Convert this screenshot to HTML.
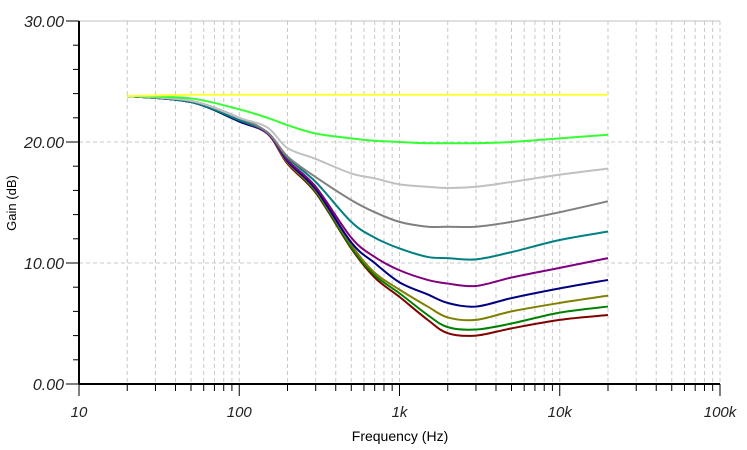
<!DOCTYPE html>
<html><head><meta charset="utf-8"><style>
body{margin:0;background:#fff}
svg{display:block;font-family:"Liberation Sans",sans-serif}
</style></head><body>
<svg id="chart" width="747" height="450" viewBox="0 0 747 450" xmlns="http://www.w3.org/2000/svg">
<g id="grid"></g><g id="axes"></g><g id="series"></g>
<text x="400" y="441" font-size="14" text-anchor="middle">Frequency (Hz)</text>
<text x="16" y="203" font-size="13" text-anchor="middle" transform="rotate(-90 16 203)">Gain (dB)</text>
</svg>
<script>
const freqs=[20,50,100,150,200,300,500,700,1000,1500,2000,3000,5000,10000,20000];
const yTicks=[0,10,20,30];
const yTickLabels=["0.00","10.00","20.00","30.00"];
const xTicks=[10,100,1000,10000,100000];
const xTickLabels=["10","100","1k","10k","100k"];
const colors=["#ffff33","#33ff33","#c0c0c0","#808080","#008080","#800080","#000080","#808000","#008000","#800000"];
const sYellow=[23.8,23.9,23.9,23.9,23.9,23.9,23.9,23.9,23.9,23.9,23.9,23.9,23.9,23.9,23.9];
const sLime=[23.8,23.6,22.7,22.0,21.4,20.7,20.3,20.1,20.0,19.9,19.9,19.9,20.0,20.3,20.6];
const sSilver=[23.8,23.4,22.0,21.2,19.5,18.6,17.4,17.0,16.5,16.3,16.2,16.3,16.7,17.3,17.8];
const sGray=[23.8,23.4,22.0,20.8,18.8,17.1,15.2,14.2,13.4,13.0,13.0,13.0,13.4,14.2,15.1];
const sTeal=[23.8,23.3,21.8,20.8,18.7,16.7,13.4,12.1,11.2,10.5,10.4,10.3,10.9,11.9,12.6];
const sPurple=[23.8,23.3,21.8,20.7,18.5,16.3,12.1,10.5,9.4,8.6,8.3,8.1,8.8,9.6,10.4];
const sNavy=[23.8,23.3,21.7,20.7,18.4,16.1,11.7,10.0,8.4,7.4,6.7,6.4,7.1,7.9,8.6];
const sOlive=[23.8,23.3,21.7,20.7,18.3,16.0,11.5,9.2,7.8,6.4,5.5,5.3,6.0,6.7,7.3];
const sGreen=[23.8,23.3,21.7,20.7,18.3,15.9,11.3,9.0,7.5,5.7,4.7,4.5,5.0,5.9,6.4];
const sMaroon=[23.8,23.3,21.7,20.7,18.2,15.8,11.2,8.8,7.2,5.3,4.2,4.0,4.6,5.3,5.7];
const allSeries=[sYellow,sLime,sSilver,sGray,sTeal,sPurple,sNavy,sOlive,sGreen,sMaroon];
const names=["yellow","lime","silver","gray","teal","purple","navy","olive","green","maroon"];
const X0=79,X1=720,Y0=384,Y1=21;
const xs=f=>X0+(Math.log10(f)-1)/4*(X1-X0);
const ys=v=>Y0-v/30*(Y0-Y1);
const NS="http://www.w3.org/2000/svg";
function mk(tag,attrs,parent){const e=document.createElementNS(NS,tag);for(const k in attrs)e.setAttribute(k,attrs[k]);parent.appendChild(e);return e;}
const grid=document.getElementById('grid'),axes=document.getElementById('axes'),ser=document.getElementById('series');
for(let d=10;d<100000;d*=10){for(let m=1;m<10;m++){const f=d*m;const x=xs(f);
 if(f>10){const g=mk('line',{x1:x,x2:x,y1:Y1,y2:Y0,stroke:'#c8c8c8','stroke-dasharray':'4,3'},grid);
 }
 const t=mk('line',{x1:x,x2:x,y1:Y0,y2:Y0+(m===1?12:7),stroke:'#000'},axes);
 }}
const tl=mk('line',{x1:xs(100000),x2:xs(100000),y1:Y0,y2:Y0+12,stroke:'#000'},axes);

const rg=mk('line',{x1:X1,x2:X1,y1:Y1,y2:Y0,stroke:'#c8c8c8','stroke-dasharray':'4,3'},grid);

yTicks.forEach((v,i)=>{const y=ys(v);
 if(v>0){const g=mk('line',{x1:X0,x2:X1,y1:y,y2:y,stroke:v===30?'#c0c0c0':'#c8c8c8','stroke-dasharray':v===30?'none':'4,3'},grid);
 }
 const t=mk('line',{x1:X0-13,x2:X0,y1:y,y2:y,stroke:'#000'},axes);
 
 const l=mk('text',{x:X0-15,y:y+6,'font-size':'16','font-style':'italic','text-anchor':'end',fill:'#222'},axes);
 l.textContent=yTickLabels[i];
 });
for(let v=2;v<30;v+=2){if(v%10===0)continue;const y=ys(v);
 const t=mk('line',{x1:X0-6,x2:X0,y1:y,y2:y,stroke:'#000'},axes);
 }
xTicks.forEach((f,i)=>{const l=mk('text',{x:xs(f),y:417,'font-size':'15','font-style':'italic','text-anchor':'middle',fill:'#222'},axes);
 l.textContent=xTickLabels[i];
 });
const ya=mk('line',{x1:X0,x2:X0,y1:Y1,y2:Y0,stroke:'#000','stroke-width':2},axes);

const xa=mk('line',{x1:X0,x2:X1,y1:Y0,y2:Y0,stroke:'#000','stroke-width':2},axes);

function pathFor(vals){const p=freqs.map((f,i)=>[xs(f),ys(vals[i])]);let d='M'+p[0][0]+','+p[0][1];
 for(let i=0;i<p.length-1;i++){const a=p[Math.max(0,i-1)],b=p[i],c=p[i+1],e=p[Math.min(p.length-1,i+2)];
 const c1=[b[0]+(c[0]-a[0])/6,b[1]+(c[1]-a[1])/6],c2=[c[0]-(e[0]-b[0])/6,c[1]-(e[1]-b[1])/6];
 d+=' C'+c1[0]+','+c1[1]+' '+c2[0]+','+c2[1]+' '+c[0]+','+c[1];}return d;}
for(let k=allSeries.length-1;k>=0;k--){const p=mk('path',{d:pathFor(allSeries[k]),fill:'none',stroke:colors[k],'stroke-width':2},ser);
 
 }
</script>
</body></html>
